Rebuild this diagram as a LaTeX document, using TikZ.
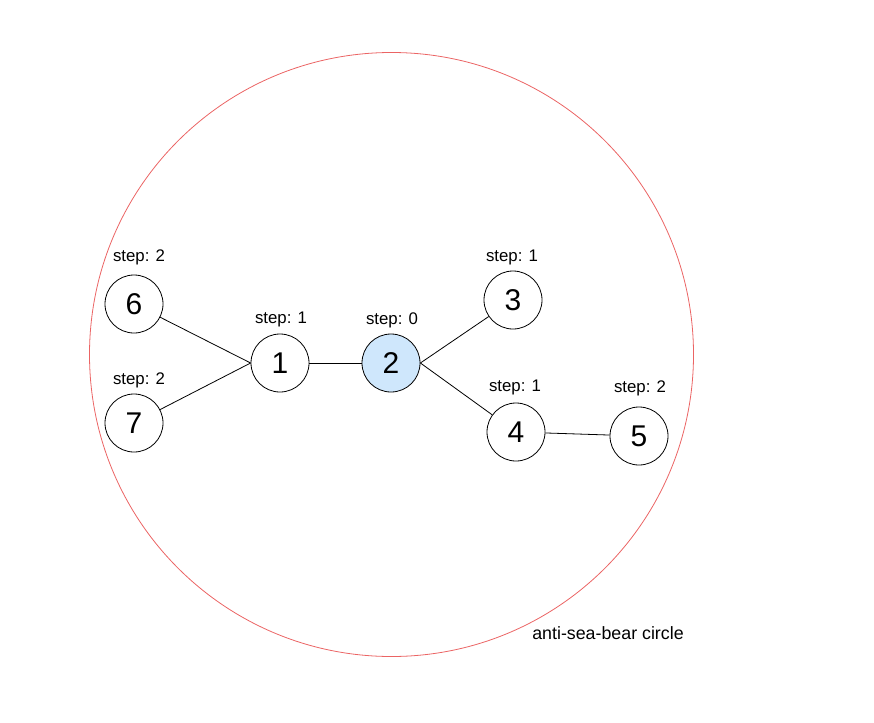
\documentclass[tikz,border=0pt]{standalone}
\usepackage{fontspec}
\setmainfont{Liberation Sans}
\definecolor{ringred}{RGB}{235,100,100}
\definecolor{startblue}{RGB}{207,231,252}
\begin{document}
\begin{tikzpicture}[x=1pt,y=-1pt,
  vert/.style={circle,draw=black,line width=0.8pt,minimum size=58pt,inner sep=0pt,font=\fontsize{30}{32}\selectfont},
  steplabel/.style={font=\fontsize{16.8}{19}\selectfont,inner sep=0pt},
  edge/.style={draw=black,line width=0.8pt}]
\useasboundingbox (0,0) rectangle (874,722);
\node[circle,draw=ringred,line width=0.8pt,minimum size=604pt,inner sep=0pt] (ring) at (391.5,354.5) {};
\node[vert] (n6) at (134,304) {6};
\node[vert] (n7) at (134,423) {7};
\node[vert] (n1) at (280,363) {1};
\node[vert,fill=startblue] (n2) at (391,363) {2};
\node[vert] (n3) at (513,300) {3};
\node[vert] (n4) at (516,432) {4};
\node[vert] (n5) at (639,436) {5};
\node[steplabel] (s6) at (139,257) {step: 2};
\node[steplabel] (s7) at (139,380) {step: 2};
\node[steplabel] (s1) at (281,319) {step: 1};
\node[steplabel] (s2) at (392,320) {step: 0};
\node[steplabel] (s3) at (512,257) {step: 1};
\node[steplabel] (s4) at (515,387) {step: 1};
\node[steplabel] (s5) at (640,388) {step: 2};
\node[font=\fontsize{17.8}{20}\selectfont,inner sep=0pt] (ringlabel) at (608,633) {anti-sea-bear circle};
\draw[edge] (n6) -- (n1.west);
\draw[edge] (n7) -- (n1.west);
\draw[edge] (n1) -- (n2);
\draw[edge] (n2.east) -- (n3);
\draw[edge] (n2.east) -- (n4);
\draw[edge] (n4) -- (n5);
\end{tikzpicture}
\end{document}
